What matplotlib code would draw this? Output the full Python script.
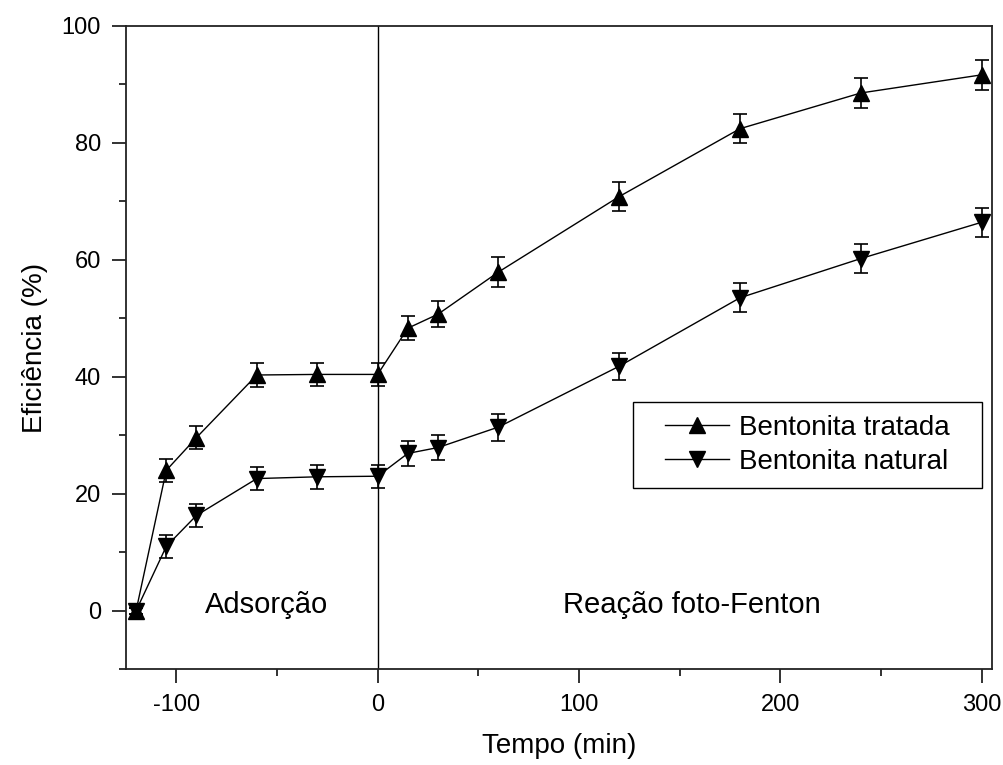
import numpy as np
import matplotlib
matplotlib.use('Agg')
from matplotlib import pyplot as plt
from matplotlib.ticker import MultipleLocator
from matplotlib.lines import Line2D
from matplotlib.patches import Rectangle

plt.rcParams['font.family'] = ['Liberation Sans', 'DejaVu Sans']
plt.rcParams['axes.unicode_minus'] = False

tempo = [-120, -105, -90, -60, -30, 0, 15, 30, 60, 120, 180, 240, 300]

tratada = [0, 24.0, 29.6, 40.3, 40.4, 40.4, 48.3, 50.7, 57.9, 70.8, 82.4, 88.5, 91.6]
tratada_err = [0.5, 2.0, 2.0, 2.0, 2.0, 2.0, 2.0, 2.2, 2.5, 2.5, 2.5, 2.6, 2.6]

natural = [0, 11.0, 16.3, 22.6, 22.9, 23.0, 26.9, 27.9, 31.4, 41.8, 53.5, 60.2, 66.4]
natural_err = [0.5, 2.0, 2.0, 2.0, 2.0, 2.0, 2.2, 2.2, 2.3, 2.3, 2.5, 2.5, 2.5]

fig = plt.figure(figsize=(10.04, 7.65), dpi=100)
ax = fig.add_axes([0.1255, 0.1251, 0.8622, 0.8413])

ax.axvline(0, color='black', lw=1.0, zorder=1)

ax.errorbar(tempo, tratada, yerr=tratada_err, color='black', lw=1.0,
            marker='^', markersize=11, capsize=4.8, elinewidth=1.2,
            capthick=1.2, zorder=3)
ax.errorbar(tempo, natural, yerr=natural_err, color='black', lw=1.0,
            marker='v', markersize=11, capsize=4.8, elinewidth=1.2,
            capthick=1.2, zorder=3)

ax.set_xlim(-125, 305)
ax.set_ylim(-10, 100)
ax.xaxis.set_major_locator(MultipleLocator(100))
ax.xaxis.set_minor_locator(MultipleLocator(50))
ax.yaxis.set_major_locator(MultipleLocator(20))
ax.yaxis.set_minor_locator(MultipleLocator(10))
ax.set_yticks([0, 20, 40, 60, 80, 100])

ax.tick_params(which='major', direction='out', length=10, width=1.3,
               labelsize=17, color='#222222', pad=8)
ax.tick_params(which='minor', direction='out', length=5, width=1.3,
               color='#222222')
for s in ax.spines.values():
    s.set_linewidth(1.3)
    s.set_color('#222222')

ax.set_xlabel('Tempo (min)', fontsize=20, labelpad=12)
ax.set_ylabel('Eficiência (%)', fontsize=20, labelpad=10)

ax.text(-55, 1, 'Adsorção', fontsize=21, ha='center', va='center')
ax.text(156, 1, 'Reação foto-Fenton', fontsize=21, ha='center', va='center')

# legend box drawn separately so the padding can be wider than borderpad allows
box = (0.5857, 0.2817, 0.4027, 0.134)
ax.add_patch(Rectangle(box[:2], box[2], box[3], transform=ax.transAxes,
                       fill=False, edgecolor='black', lw=1.0, zorder=4))
handles = [Line2D([], [], color='black', lw=1.0, marker='^', markersize=11),
           Line2D([], [], color='black', lw=1.0, marker='v', markersize=11)]
leg = ax.legend(handles, ['Bentonita tratada', 'Bentonita natural'],
                loc='center', bbox_to_anchor=box,
                fontsize=20, frameon=False,
                handlelength=2.3, handletextpad=0.35, borderpad=0.0,
                labelspacing=0.3)

fig.savefig('out.png', dpi=100)
